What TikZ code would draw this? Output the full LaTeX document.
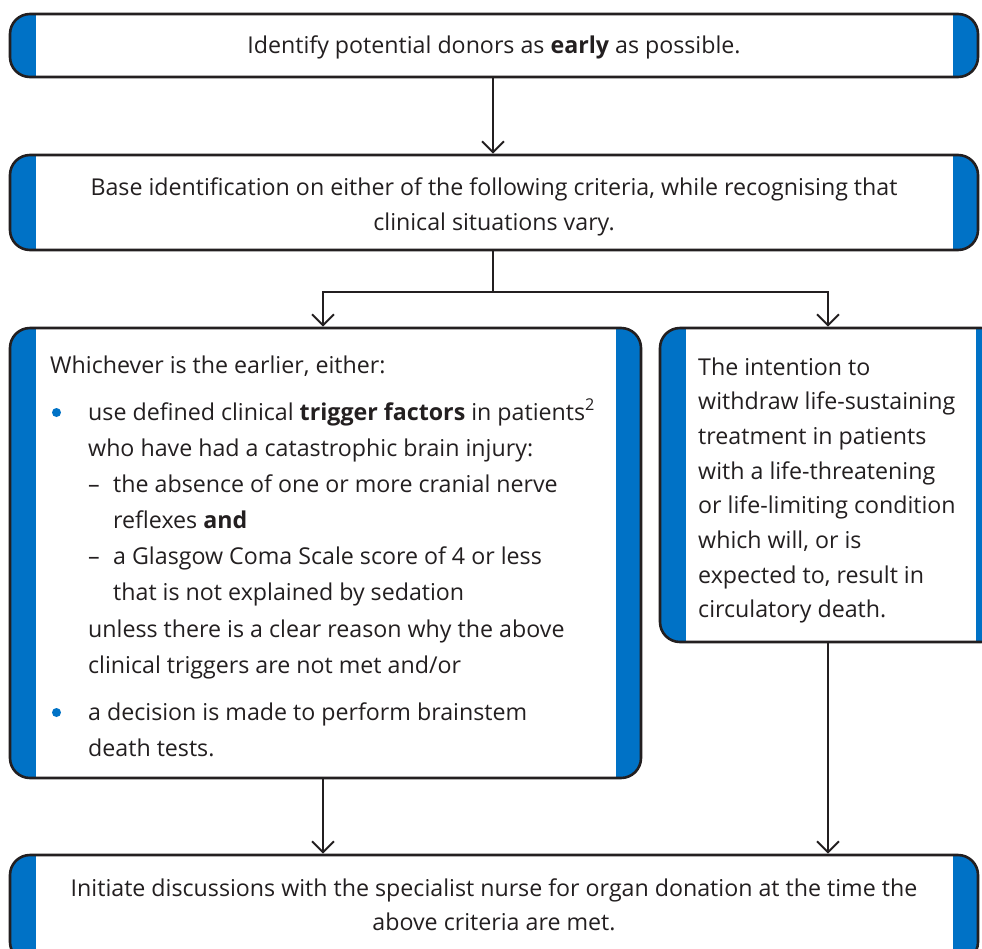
\documentclass[tikz,border=0pt]{standalone}
\usepackage{fontspec}
\setmainfont{Open Sans}
\usetikzlibrary{arrows.meta}
\definecolor{nhsblue}{RGB}{0,114,198}
\definecolor{ink}{RGB}{35,31,32}
\begin{document}
\begin{tikzpicture}[x=1pt,y=-1pt,
  panel/.style={draw=ink, line width=2.6pt, rounded corners=20pt, fill=white, inner sep=0pt,
    path picture={
      \fill[nhsblue, sharp corners] (path picture bounding box.south west) rectangle ([xshift=26pt]path picture bounding box.north west);
      \fill[nhsblue, sharp corners] ([xshift=-25pt]path picture bounding box.south east) rectangle (path picture bounding box.north east);}},
  txt/.style={inner sep=0pt, font=\fontsize{23.2}{28}\selectfont, text=ink, anchor=base west},
  ctxt/.style={txt, anchor=base},
  bul/.style={circle, fill=nhsblue, inner sep=0pt, minimum size=9pt},
  arr/.style={draw=ink, line width=2pt, -{Straight Barb[length=11pt,width=22pt,line width=2pt]}},
  link/.style={draw=ink, line width=2pt, line cap=rect}]
\clip (0,0) rectangle (982,948);
% boxes
\node[panel, minimum width=968pt, minimum height=63pt] (b1) at (494,45.5) {};
\node[panel, minimum width=968pt, minimum height=95pt] (b2) at (494,202.5) {};
\node[panel, minimum width=631pt, minimum height=450pt] (b3) at (325.5,553) {};
\node[panel, minimum width=341pt, minimum height=314pt] (b4) at (830.5,485) {};
\node[panel, minimum width=968pt, minimum height=107pt] (b5) at (494,908.5) {};
% box 1 and 2 text
\node[ctxt] (t1) at (494,53) {Identify potential donors as \textbf{early} as possible.};
\node[ctxt] (t2a) at (494,195) {Base identification on either of the following criteria, while recognising that};
\node[ctxt] (t2b) at (494,230) {clinical situations vary.};
% left box text
\node[txt] (l1) at (50,373) {Whichever is the earlier, either:};
\node[bul] (d1) at (56.5,412.5) {};
\node[txt] (l2) at (88,420) {use defined clinical \textbf{trigger factors} in patients\textsuperscript{2}};
\node[txt] (l3) at (88,456) {who have had a catastrophic brain injury:};
\node[txt] (h1) at (88,492) {–};
\node[txt] (l4) at (113,492) {the absence of one or more cranial nerve};
\node[txt] (l5) at (113,528) {reflexes \textbf{and}};
\node[txt] (h2) at (88,564) {–};
\node[txt] (l6) at (113,564) {a Glasgow Coma Scale score of 4 or less};
\node[txt] (l7) at (113,600) {that is not explained by sedation};
\node[txt] (l8) at (88,637) {unless there is a clear reason why the above};
\node[txt] (l9) at (88,673) {clinical triggers are not met and/or};
\node[bul] (d2) at (56.5,712.5) {};
\node[txt] (l10) at (88,720) {a decision is made to perform brainstem};
\node[txt] (l11) at (88,756) {death tests.};
% right box text
\node[txt] (r1) at (698,375) {The intention to};
\node[txt] (r2) at (698,409.7) {withdraw life-sustaining};
\node[txt] (r3) at (698,444.4) {treatment in patients};
\node[txt] (r4) at (698,479.1) {with a life-threatening};
\node[txt] (r5) at (698,513.8) {or life-limiting condition};
\node[txt] (r6) at (698,548.5) {which will, or is};
\node[txt] (r7) at (698,583.2) {expected to, result in};
\node[txt] (r8) at (698,617.9) {circulatory death.};
% bottom box text
\node[ctxt] (t5a) at (494,896) {Initiate discussions with the specialist nurse for organ donation at the time the};
\node[ctxt] (t5b) at (494,930) {above criteria are met.};
% connectors
\coordinate (jm) at (493,292);
\coordinate (jl) at (323,292);
\coordinate (jr) at (828,292);
\draw[arr] (b1.south -| jm) -- (b2.north -| jm);
\draw[link] (b2.south -| jm) -- (jm);
\draw[link] (jl) -- (jr);
\draw[arr] (jl) -- (jl |- b3.north);
\draw[arr] (jr) -- (jr |- b4.north);
\draw[arr] (jl |- b3.south) -- (jl |- b5.north);
\draw[arr] (jr |- b4.south) -- (jr |- b5.north);
\end{tikzpicture}
\end{document}
